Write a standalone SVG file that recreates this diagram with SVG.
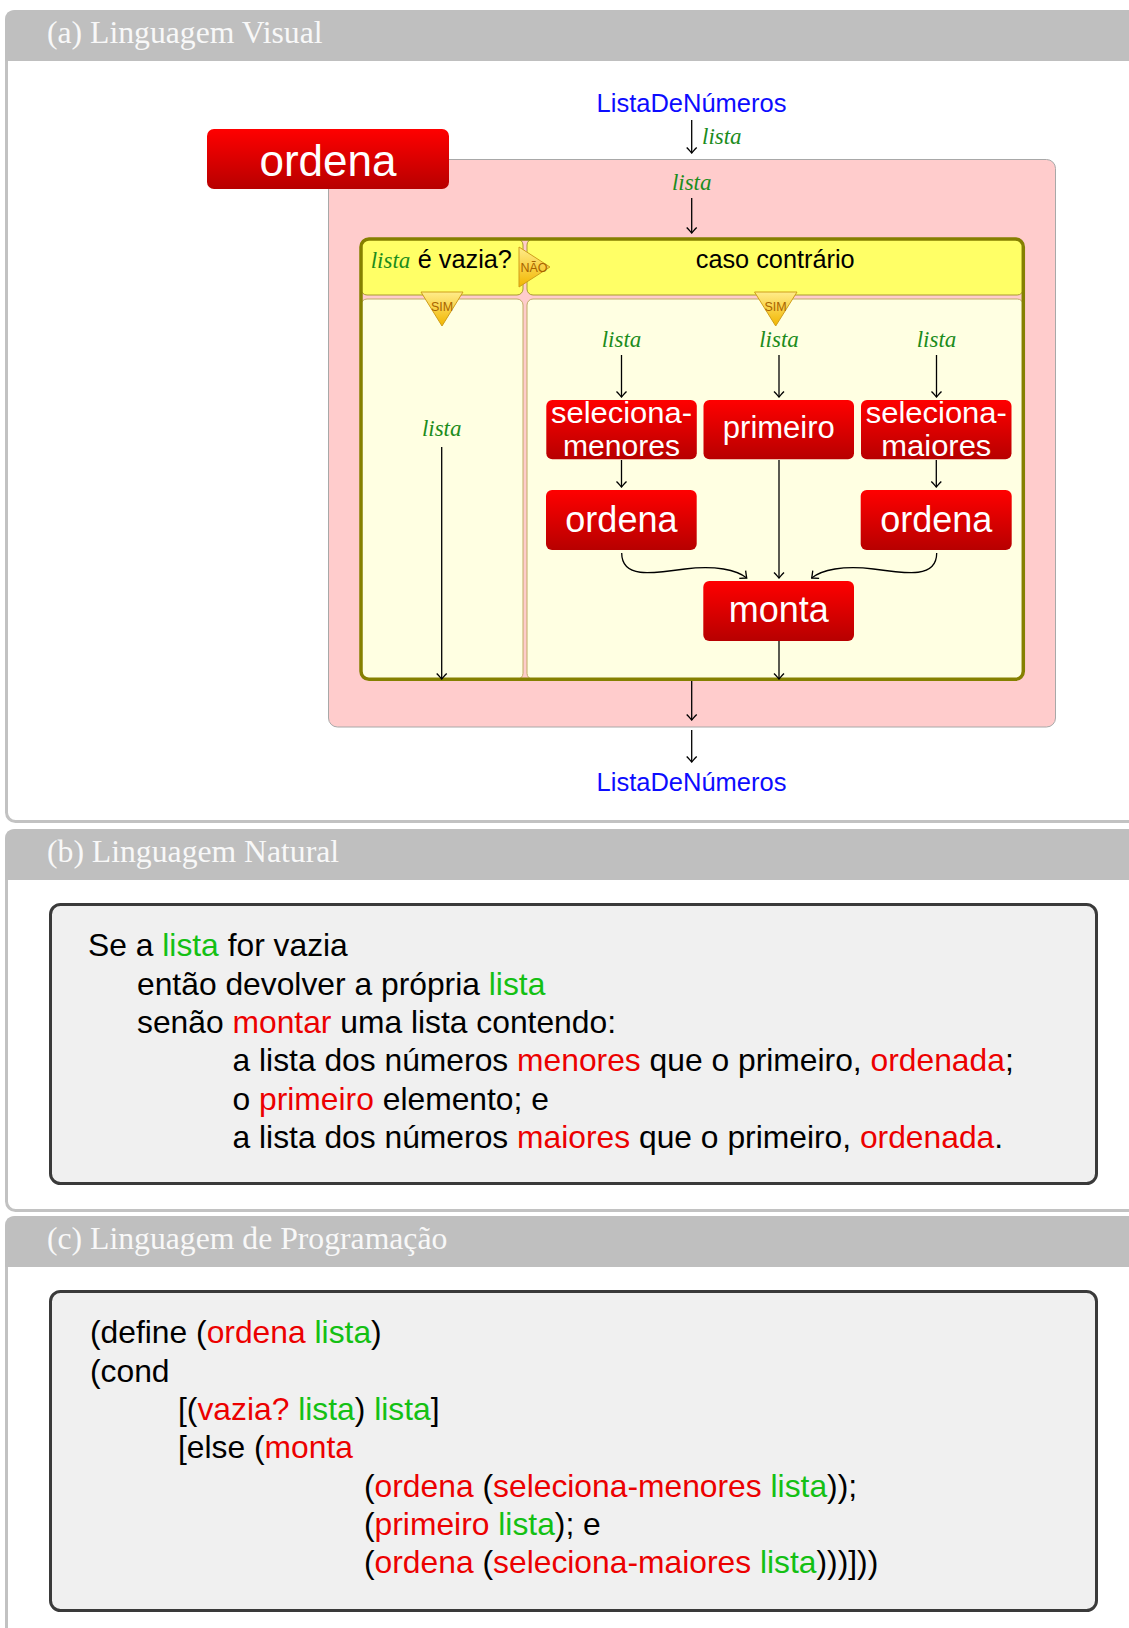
<svg xmlns="http://www.w3.org/2000/svg" width="1129" height="1628" viewBox="0 0 1129 1628">
  <defs>
    <linearGradient id="redFill" x1="0" y1="0" x2="0" y2="1">
      <stop offset="0" stop-color="#ff0000"/>
      <stop offset="1" stop-color="#b70000"/>
    </linearGradient>
    <linearGradient id="goldFill" x1="0" y1="0" x2="0" y2="1">
      <stop offset="0" stop-color="#ffec8a"/>
      <stop offset="1" stop-color="#f2b600"/>
    </linearGradient>
    <marker id="arrow" viewBox="-7 -6 8 12" refX="0" refY="0" markerWidth="8" markerHeight="12" markerUnits="userSpaceOnUse" orient="auto">
      <path d="M-5.5,-5 Q-1.5,-1.2 0,0 Q-1.5,1.2 -5.5,5" fill="none" stroke="#000" stroke-width="1.3"/>
    </marker>
  </defs>
  <style>
    .panel { fill: #ffffff; stroke: #c2c2c2; stroke-width: 3; }
    .phead { fill: #bfbfbf; }
    .ptitle { font-family: "Liberation Serif", "Times New Roman", serif; font-size: 31.7px; fill: #f8f8f8; }
    .tbox { fill: #f0f0f0; stroke: #3a3a3a; stroke-width: 3; }
    .body { font-family: "Liberation Sans", Arial, sans-serif; font-size: 31.8px; fill: #000; }
    .g { fill: #14c014; }
    .r { fill: #ec0000; }
    .blue { font-family: "Liberation Sans", Arial, sans-serif; font-size: 25.5px; fill: #0c0cff; text-anchor: middle; }
    .lbl { font-family: "Liberation Serif", "Times New Roman", serif; font-style: italic; font-size: 23px; fill: #1c8c1c; }
    .mid { text-anchor: middle; }
    .fn { fill: url(#redFill); }
    .fnt { font-family: "Liberation Sans", Arial, sans-serif; fill: #ffffff; text-anchor: middle; }
    .hcell { fill: #ffff66; stroke: #a89a30; stroke-width: 1; }
    .bcell { fill: #ffffe2; stroke: #c0aa66; stroke-width: 1; }
    .frame { fill: none; stroke: #858000; stroke-width: 3.5; }
    .tri { fill: url(#goldFill); stroke: #cf9e1a; stroke-width: 1; stroke-linejoin: round; }
    .trit { font-family: "Liberation Sans", Arial, sans-serif; font-size: 12.5px; fill: #a86400; text-anchor: middle; }
    .hdr { font-family: "Liberation Sans", Arial, sans-serif; font-size: 25.3px; fill: #000; }
    .wire { fill: none; stroke: #000; stroke-width: 1.3; marker-end: url(#arrow); }
  </style>

  <!-- panel (a): visual language -->
  <g id="panel-a">
    <rect class="panel" x="6.5" y="11.5" width="1140" height="810" rx="9"/>
    <path class="phead" d="M5,61 V20 Q5,10 15,10 H1140 V61 Z"/>
    <text class="ptitle" x="47" y="43">(a) Linguagem Visual</text>
  </g>

  <!-- panel (b): natural language -->
  <g id="panel-b">
    <rect class="panel" x="6.5" y="830.5" width="1140" height="380" rx="9"/>
    <path class="phead" d="M5,880 V839 Q5,829 15,829 H1140 V880 Z"/>
    <text class="ptitle" x="47" y="862">(b) Linguagem Natural</text>
    <rect class="tbox" x="50.5" y="904.5" width="1046" height="279" rx="10"/>
    <text class="body" x="88" y="956">Se a <tspan class="g">lista</tspan> for vazia</text>
    <text class="body" x="137" y="994.5">então devolver a própria <tspan class="g">lista</tspan></text>
    <text class="body" x="137" y="1033">senão <tspan class="r">montar</tspan> uma lista contendo:</text>
    <text class="body" x="232.5" y="1071">a lista dos números <tspan class="r">menores</tspan> que o primeiro, <tspan class="r">ordenada</tspan>;</text>
    <text class="body" x="232.5" y="1109.5">o <tspan class="r">primeiro</tspan> elemento; e</text>
    <text class="body" x="232.5" y="1148">a lista dos números <tspan class="r">maiores</tspan> que o primeiro, <tspan class="r">ordenada</tspan>.</text>
  </g>

  <!-- panel (c): programming language -->
  <g id="panel-c">
    <rect class="panel" x="6.5" y="1217.5" width="1140" height="440" rx="9"/>
    <path class="phead" d="M5,1267 V1226 Q5,1216 15,1216 H1140 V1267 Z"/>
    <text class="ptitle" x="47" y="1249">(c) Linguagem de Programação</text>
    <rect class="tbox" x="50.5" y="1291.5" width="1046" height="319" rx="10"/>
    <text class="body" x="90" y="1343">(define (<tspan class="r">ordena</tspan> <tspan class="g">lista</tspan>)</text>
    <text class="body" x="90" y="1382">(cond</text>
    <text class="body" x="178" y="1420">[(<tspan class="r">vazia?</tspan> <tspan class="g">lista</tspan>) <tspan class="g">lista</tspan>]</text>
    <text class="body" x="178" y="1458">[else (<tspan class="r">monta</tspan></text>
    <text class="body" x="364" y="1497">(<tspan class="r">ordena</tspan> (<tspan class="r">seleciona-menores</tspan> <tspan class="g">lista</tspan>));</text>
    <text class="body" x="364" y="1535">(<tspan class="r">primeiro</tspan> <tspan class="g">lista</tspan>); e</text>
    <text class="body" x="364" y="1573">(<tspan class="r">ordena</tspan> (<tspan class="r">seleciona-maiores</tspan> <tspan class="g">lista</tspan>)))]))</text>
  </g>

  <!-- function body: ordena -->
  <g id="node-ordena">
    <rect x="328.5" y="159.5" width="727" height="567.5" rx="9" fill="#ffcccc" stroke="#a8a8a8" stroke-width="1"/>
    <rect class="fn" x="207" y="129" width="242" height="60" rx="7"/>
    <text class="fnt" x="328" y="175.5" font-size="44">ordena</text>
  </g>

  <!-- conditional block -->
  <g id="node-cond">
    <rect class="hcell" x="361" y="239" width="162" height="56" rx="6"/>
    <rect class="hcell" x="527" y="239" width="496.3" height="56" rx="6"/>
    <rect class="bcell" x="361" y="299" width="162" height="380.3" rx="6"/>
    <rect class="bcell" x="527" y="299" width="496.3" height="380.3" rx="6"/>
    <rect class="frame" x="361" y="239" width="662.3" height="440.3" rx="8"/>
    <text class="lbl" x="370.7" y="267.5">lista</text>
    <text class="hdr" x="417.7" y="267.5">é vazia?</text>
    <text class="hdr mid" x="775.2" y="267.7">caso contrário</text>
    <path class="tri" d="M519,247 L550,267 L519,287 Z"/>
    <text class="trit" x="534" y="271.5">NÃO</text>
    <path class="tri" d="M421,292 L463,292 L442,326 Z"/>
    <text class="trit" x="442" y="311">SIM</text>
    <path class="tri" d="M754.5,292 L797,292 L775.7,326 Z"/>
    <text class="trit" x="775.5" y="311">SIM</text>
  </g>

  <!-- two-line labels are stretched to the box width -->
  <g id="node-seleciona-menores">
    <rect class="fn" x="546.3" y="400" width="150.5" height="59.3" rx="6"/>
    <text class="fnt" font-size="29.5"><tspan x="621.5" y="422.5" textLength="141" lengthAdjust="spacingAndGlyphs">seleciona-</tspan><tspan x="621.5" y="455.5" textLength="117" lengthAdjust="spacingAndGlyphs">menores</tspan></text>
  </g>
  <g id="node-primeiro">
    <rect class="fn" x="703.5" y="400" width="150.5" height="59.3" rx="6"/>
    <text class="fnt" x="778.8" y="438.3" font-size="31">primeiro</text>
  </g>
  <g id="node-seleciona-maiores">
    <rect class="fn" x="861" y="400" width="150.5" height="59.3" rx="6"/>
    <text class="fnt" font-size="29.5"><tspan x="936.3" y="422.5" textLength="141" lengthAdjust="spacingAndGlyphs">seleciona-</tspan><tspan x="936.3" y="455.5" textLength="110" lengthAdjust="spacingAndGlyphs">maiores</tspan></text>
  </g>
  <g id="node-ordena-menores">
    <rect class="fn" x="546" y="490" width="150.7" height="60" rx="6"/>
    <text class="fnt" x="621.4" y="532" font-size="36">ordena</text>
  </g>
  <g id="node-ordena-maiores">
    <rect class="fn" x="860.7" y="490" width="151" height="60" rx="6"/>
    <text class="fnt" x="936.2" y="532" font-size="36">ordena</text>
  </g>
  <g id="node-monta">
    <rect class="fn" x="703.3" y="581" width="150.7" height="60" rx="6"/>
    <text class="fnt" x="778.7" y="622" font-size="36">monta</text>
  </g>

  <g id="node-input">
    <text class="blue" x="691.5" y="111.5">ListaDeNúmeros</text>
  </g>
  <g id="node-output">
    <text class="blue" x="691.5" y="790.7">ListaDeNúmeros</text>
  </g>

  <!-- data-flow labels -->
  <g id="labels">
    <text class="lbl" x="702" y="144">lista</text>
    <text class="lbl mid" x="691.7" y="190">lista</text>
    <text class="lbl mid" x="441.7" y="436">lista</text>
    <text class="lbl mid" x="621.5" y="346.5">lista</text>
    <text class="lbl mid" x="779" y="346.5">lista</text>
    <text class="lbl mid" x="936.5" y="346.5">lista</text>
  </g>

  <!-- connectors -->
  <g id="connectors">
    <path class="wire" d="M691.7,120 V153"/>
    <path class="wire" d="M691.7,198 V233"/>
    <path class="wire" d="M441.7,447 V679"/>
    <path class="wire" d="M621.5,355 V397"/>
    <path class="wire" d="M779,355 V397"/>
    <path class="wire" d="M936.5,355 V397"/>
    <path class="wire" d="M621.5,460 V487"/>
    <path class="wire" d="M936.3,460 V487"/>
    <path class="wire" d="M779,460 V578"/>
    <path class="wire" d="M621.7,553 C621.7,578 650,574 685,569 C715,565 737,570 746.7,578"/>
    <path class="wire" d="M936.7,553 C936.7,578 908.4,574 873.4,569 C843.4,565 821.4,570 811.7,578"/>
    <path class="wire" d="M779,641 V679"/>
    <path class="wire" d="M691.7,681 V720"/>
    <path class="wire" d="M691.7,730 V762"/>
  </g>
</svg>
